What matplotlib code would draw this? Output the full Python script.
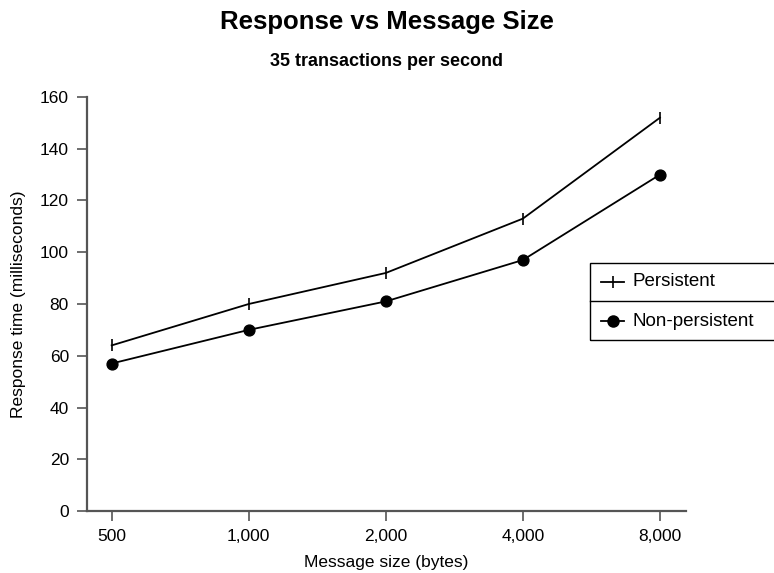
import matplotlib
matplotlib.use("Agg")
import matplotlib.pyplot as plt
from matplotlib.lines import Line2D
from matplotlib.patches import Rectangle

plt.rcParams['font.family'] = ['Liberation Sans', 'DejaVu Sans']

sizes = ["500", "1,000", "2,000", "4,000", "8,000"]
persistent = [64, 80, 92, 113, 152]
non_persistent = [57, 70, 81, 97, 130]
series_names = ["Persistent", "Non-persistent"]

W, H = 774, 573
fig = plt.figure(figsize=(W / 100, H / 100), dpi=100)
ax = fig.add_axes([87 / W, 1 - 511 / H, (686 - 87) / W, (511 - 97) / H])

x = list(range(len(sizes)))
ax.plot(x, persistent, color='black', lw=1.3, marker='|', markersize=8, mew=1.2)
ax.plot(x, non_persistent, color='black', lw=1.3, marker='o', markersize=7.8)

ax.set_xlim(-0.18, 4.19)
ax.set_ylim(0, 160)
ax.set_yticks(range(0, 161, 20))
ax.set_xticks(x)
ax.set_xticklabels(sizes)
for s in ['top', 'right']:
    ax.spines[s].set_visible(False)
for s in ['left', 'bottom']:
    ax.spines[s].set_color('#555555')
    ax.spines[s].set_linewidth(1.6)
ax.tick_params(axis='both', colors='#555555', labelcolor='black', labelsize=12.5,
               length=7, width=1.2, direction='out', pad=6)
ax.set_xlabel("Message size (bytes)", fontsize=12.5, labelpad=8)
ax.set_ylabel("Response time (milliseconds)", fontsize=12.5, labelpad=10)

fig.text(0.5, 1 - 22 / H, "Response vs Message Size", ha='center', va='center',
         fontsize=18.5, fontweight='bold')
fig.text(0.5, 1 - 61 / H, "35 transactions per second", ha='center', va='center',
         fontsize=13, fontweight='bold')

# legend box
lx0, lx1, ly0, ly1 = 590, 776, 263, 340
fig.patches.append(Rectangle((lx0 / W, 1 - ly1 / H), (lx1 - lx0) / W, (ly1 - ly0) / H,
                             transform=fig.transFigure, fill=False, edgecolor='black', lw=1.0))
fig.add_artist(Line2D([lx0 / W, lx1 / W], [1 - 301 / H, 1 - 301 / H],
                      transform=fig.transFigure, color='black', lw=1.0))
entries = [(282, '|', 8), (321, 'o', 7.8)]
for name, (yy, mk, ms) in zip(series_names, entries):
    fig.add_artist(Line2D([601 / W, 624 / W], [1 - yy / H, 1 - yy / H],
                          transform=fig.transFigure, color='black', lw=1.3))
    fig.add_artist(Line2D([612.5 / W], [1 - yy / H], transform=fig.transFigure,
                          marker=mk, markersize=ms, mew=1.2, color='black', lw=0))
    fig.text(632 / W, 1 - yy / H, name, ha='left', va='center', fontsize=13.5)

fig.savefig("out.png", dpi=100)
